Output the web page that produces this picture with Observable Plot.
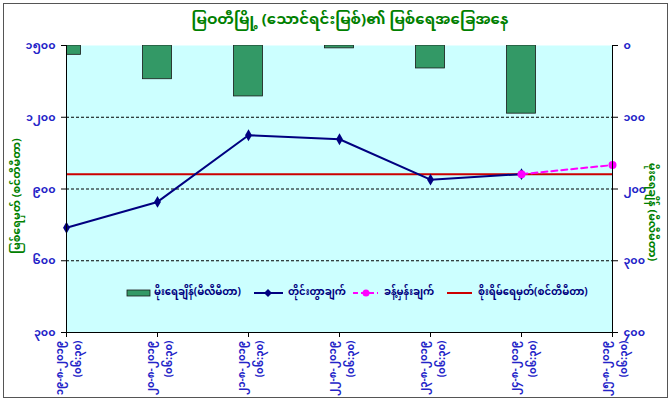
<!DOCTYPE html>
<html><head><meta charset="utf-8">
<script src="https://cdn.jsdelivr.net/npm/d3@7"></script>
<script src="https://cdn.jsdelivr.net/npm/@observablehq/plot@0.6"></script>
<style>
body{margin:0;width:672px;height:404px;overflow:hidden;background:#fff;position:relative;font-family:"Noto Sans Myanmar","Padauk","Myanmar Text","Noto Sans",sans-serif;}
#frame{position:absolute;left:3px;top:3px;width:665px;height:395px;border:1px solid #555;box-sizing:border-box;}
#title{position:absolute;left:14px;top:6px;width:672px;text-align:center;font-size:15px;font-weight:bold;color:#008000;line-height:30px;}
#chart{position:absolute;left:0;top:36px;}
.ytitle{position:absolute;color:#008000;font-size:11px;font-weight:bold;white-space:nowrap;}
#legend{position:absolute;left:0;top:284px;width:672px;height:20px;font-size:10px;color:#000080;font-weight:bold;}
#legend .t{position:absolute;top:2px;white-space:nowrap;line-height:14px;}
#legend svg{position:absolute;top:0;}
</style>
</head><body>
<div id="frame"></div>
<div id="title"></div>
<div id="chart"></div>
<div class="ytitle" id="ytl"></div>
<div class="ytitle" id="ytr"></div>
<div id="legend"></div>
<script>
const titleText = "မြဝတီမြို့ (သောင်ရင်းမြစ်)၏ မြစ်ရေအခြေအနေ";
const leftAxisTitle = "မြစ်ရေမှတ် (စင်တီမီတာ)";
const rightAxisTitle = "မိုးရေချိန် (မီလီမီတာ)";
const dates = ["၁၉-၈-၂၀၁၉","၂၀-၈-၂၀၁၉","၂၁-၈-၂၀၁၉","၂၂-၈-၂၀၁၉","၂၃-၈-၂၀၁၉","၂၄-၈-၂၀၁၉","၂၅-၈-၂၀၁၉"];
const times = ["(၀၆:၃၀)","(၀၆:၃၀)","(၀၆:၃၀)","(၀၆:၃၀)","(၀၆:၃၀)","(၀၆:၃၀)","(၀၆:၃၀)"];
const rain = [13, 47, 71, 4, 32, 95, 0];
const level = [738, 846, 1125, 1108, 939, 962, null];
const forecast = [null, null, null, null, null, 962, 1000];
const danger = 962;
const leftTicks = [300, 600, 900, 1200, 1500];
const leftTickLabels = ["၃၀၀","၆၀၀","၉၀၀","၁၂၀၀","၁၅၀၀"];
const rainTicks = [0, 100, 200, 300, 400];
const rainTickLabels = ["၀","၁၀၀","၂၀၀","၃၀၀","၄၀၀"];
const legendLabels = ["မိုးရေချိန်(မီလီမီတာ)","တိုင်းတွာချက်","ခန့်မှန်းချက်","စိုးရိမ်ရေမှတ်(စင်တီမီတာ)"];

document.getElementById("title").textContent = titleText;

const idx = d3.range(dates.length);
// rainfall axis (right, reversed) mapped onto the level scale
const rainToY = d3.scaleLinear().domain([0, 400]).range([1500, 300]);
const tickColor = "#2424c8";
const font = '"Noto Sans Myanmar","Padauk","Myanmar Text","Noto Sans",sans-serif';

const chart = Plot.plot({
  width: 672, height: 368,
  marginLeft: 66, marginRight: 60, marginTop: 9, marginBottom: 72,
  style: {background: "transparent", fontFamily: font, fontSize: "11px", overflow: "visible"},
  x: {type: "linear", domain: [0, 6]},
  y: {domain: [300, 1500]},
  marks: [
    Plot.frame({fill: "#ccffff", stroke: null}),
    Plot.gridY([600, 900, 1200], {stroke: "#000", strokeOpacity: 1, strokeDasharray: "3,2"}),
    Plot.rect(idx.filter(i => rain[i] > 0), {
      x1: i => i - 0.16, x2: i => i + 0.16,
      y1: i => 1500, y2: i => rainToY(rain[i]),
      fill: "#339966", stroke: "#1a1a1a", strokeWidth: 0.8, clip: true
    }),
    Plot.ruleY([danger], {stroke: "#cc0000", strokeWidth: 2}),
    Plot.line(idx.filter(i => level[i] != null), {x: i => i, y: i => level[i], stroke: "#000080", strokeWidth: 2}),
    Plot.dot(idx.filter(i => level[i] != null), {x: i => i, y: i => level[i], symbol: "diamond", r: 3.6, fill: "#000080", stroke: null}),
    Plot.line(idx.filter(i => forecast[i] != null), {x: i => i, y: i => forecast[i], stroke: "#ff00ff", strokeWidth: 2, strokeDasharray: "6,4"}),
    Plot.dot(idx.filter(i => forecast[i] != null), {x: i => i, y: i => forecast[i], r: 4, fill: "#ff00ff", stroke: null}),
    Plot.ruleX([0, 6], {stroke: "#000", strokeWidth: 1}),
    Plot.ruleY([300], {stroke: "#000", strokeWidth: 1}),
    Plot.axisY(leftTicks, {anchor: "left", label: null, tickSize: 5, tickPadding: 6, stroke: "#000",
      fill: tickColor, fontWeight: "bold", tickFormat: d => leftTickLabels[leftTicks.indexOf(d)]}),
    Plot.axisY(rainTicks.map(r => rainToY(r)), {anchor: "right", label: null, tickSize: 5, tickPadding: 6, stroke: "#000",
      fill: tickColor, fontWeight: "bold", tickFormat: d => rainTickLabels[rainTicks.indexOf(Math.round(rainToY.invert(d)))]}),
    Plot.axisX(idx, {anchor: "bottom", label: null, tickSize: 5, tickPadding: 3, tickRotate: -90, stroke: "#000",
      fill: tickColor, fontWeight: "bold", fontSize: 10, lineHeight: 1.75, tickFormat: i => dates[i] + "\n" + times[i]})
  ]
});
document.getElementById("chart").appendChild(chart);

// axis titles
const ytl = document.getElementById("ytl");
ytl.textContent = leftAxisTitle;
const ytr = document.getElementById("ytr");
ytr.textContent = rightAxisTitle;
function placeRot(el, cx, cy, deg) {
  const w = el.offsetWidth, h = el.offsetHeight;
  el.style.left = (cx - w / 2) + "px";
  el.style.top = (cy - h / 2) + "px";
  el.style.transform = `rotate(${deg}deg)`;
}
placeRot(ytl, 16, 196, -90);
placeRot(ytr, 652, 212, 90);

// legend
const lg = document.getElementById("legend");
const sw = (x, w, inner) => `<svg style="left:${x}px" width="${w}" height="18">${inner}</svg>`;
lg.innerHTML =
  sw(126, 26, `<rect x="1" y="6" width="23" height="6" fill="#339966" stroke="#1a1a1a" stroke-width="0.8"/>`) +
  `<span class="t" style="left:154px">${legendLabels[0]}</span>` +
  sw(253, 32, `<line x1="1" x2="30" y1="9" y2="9" stroke="#000080" stroke-width="2"/><path d="M15,5 L19,9 L15,13 L11,9Z" fill="#000080"/>`) +
  `<span class="t" style="left:288px">${legendLabels[1]}</span>` +
  sw(352, 28, `<line x1="1" x2="26" y1="9" y2="9" stroke="#ff00ff" stroke-width="2" stroke-dasharray="5,3"/><circle cx="14" cy="9" r="3.5" fill="#ff00ff"/>`) +
  `<span class="t" style="left:384px">${legendLabels[2]}</span>` +
  sw(446, 28, `<line x1="1" x2="26" y1="9" y2="9" stroke="#cc0000" stroke-width="2"/>`) +
  `<span class="t" style="left:478px">${legendLabels[3]}</span>`;
</script>
</body></html>
